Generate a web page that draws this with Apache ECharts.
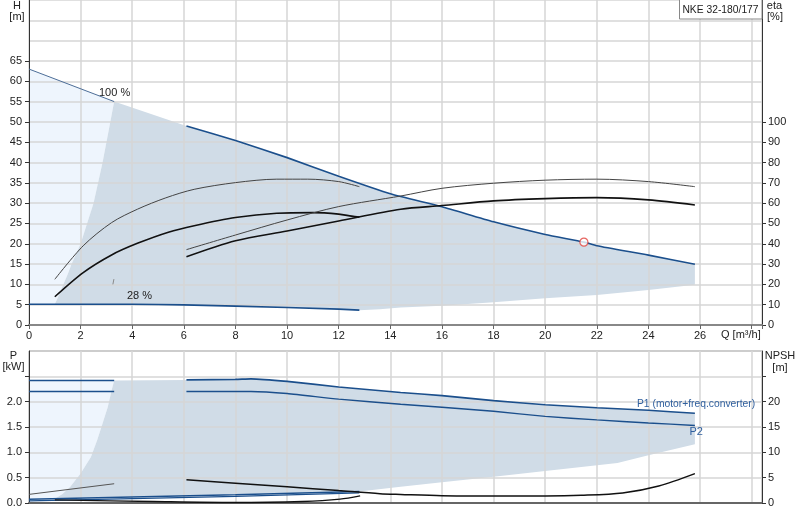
<!DOCTYPE html>
<html><head><meta charset="utf-8">
<script src="https://cdn.jsdelivr.net/npm/echarts@6/dist/echarts.min.js"></script>
<style>html,body{margin:0;padding:0;background:#fff}#c{width:800px;height:520px}</style>
</head><body><div id="c"></div>
<script>
// ---------- tick labels ----------
const qLabels = [0,2,4,6,8,10,12,14,16,18,20,22,24,26];
const hLabels = [0,5,10,15,20,25,30,35,40,45,50,55,60,65];
const etaLabels = [0,10,20,30,40,50,60,70,80,90,100];
const pLabels = [0,0.5,1,1.5,2];
const pTickVals = [0,0.5,1,1.5,2,2.5];
const npshLabels = [0,5,10,15,20];
const npshTickVals = [0,5,10,15,20,25];

// ---------- Q-H chart ----------
const q100 = [0,3.3,6.1,8,10,12,14,16,18,20,21.5,22,24,25.8];
const h100 = [63,55,49,45.4,41.2,36.6,32.3,29.1,25.4,22.3,20.4,19.5,17.2,14.95];
const q28 = [0,2,4,5,6,8,10,12,12.8];
const h28 = [5.1,5.1,5.1,5.05,4.95,4.65,4.3,3.9,3.65];
const qMinEdgeH = [1,1.17,1.33,1.5,1.65,2,2.25,2.5,2.85,3.15,3.3];
const hMinEdge = [5.1,7.5,10,12.5,15,20,25,30,40,50,55];
const qMaxEdgeH = [12.8,13.6,14.4,16,18,20,22,24,25.8];
const hMaxEdge = [3.65,3.9,4.3,4.75,5.6,6.6,7.4,8.6,9.9];
const dutyQ = [21.5];
const dutyH = [20.4];
const markQ = [3.25,3.29];
const markH = [10.0,11.3];

// efficiency curves (eta %)
const qEtaMinA = [1,2.1,3.2,4.2,5.3,6.4,8,9.6,10.8,12,12.8];
const etaMinA = [22.5,39,50.4,57,62.6,66.8,70.1,71.8,71.8,70.6,68.1];
const qEtaMinB = [1,2.1,3.2,4.2,5.4,6.4,8,9.6,11,12,12.5,12.8];
const etaMinB = [13.9,25.8,34.5,40.2,45.7,48.9,52.9,55.0,55.3,54.6,53.6,53.1];
const qEtaMaxC = [6.1,8,10,12,14.4,16,18,20,22,24,25.8];
const etaMaxC = [37.1,44.3,51.7,58.3,63.5,67.3,69.8,71.3,71.8,70.6,68.1];
const qEtaMaxD = [6.1,8,10,12,14.4,16,18,20,22,24,25.8];
const etaMaxD = [33.6,41.5,46.3,51.2,57.0,58.8,61.1,62.2,62.7,61.6,59.1];

// ---------- power / NPSH chart ----------
const qPLeft = [0,3.3];
const p1Left = [2.42,2.42];
const p2Left = [2.20,2.20];
const qP1 = [6.1,8,8.6,10,12,14.4,16,18,20,22,24,25.8];
const p1Max = [2.43,2.44,2.45,2.40,2.29,2.18,2.12,2.02,1.94,1.88,1.83,1.77];
const qP2 = [6.1,8.6,10,12,14.4,16,18,20,22,24,25.8];
const p2Max = [2.20,2.20,2.16,2.05,1.95,1.89,1.81,1.71,1.64,1.58,1.53];
const qP28 = [0,4,8,12.8];
const p1At28 = [0.075,0.12,0.165,0.227];
const p2At28 = [0.043,0.085,0.13,0.20];
const qPMinEdge = [1,1.3,1.6,2,2.4,2.64,2.85,3.05,3.2,3.3];
const pMinEdge = [0.086,0.18,0.32,0.58,0.91,1.24,1.57,1.89,2.22,2.42];
const qPMaxEdge = [12.8,14.4,16,18,20,22.8,24,25.8];
const pMaxEdge = [0.227,0.32,0.41,0.52,0.63,0.79,0.94,1.16];
const qNpshLeft = [0,3.3];
const npshLeft = [1.7,3.8];
const qNpshMax = [6.1,8,10,12,13.6,14.4,16,18,20,21.4,23,24.4,25.8];
const npshMax = [4.57,3.9,3.2,2.45,1.85,1.7,1.45,1.4,1.4,1.52,1.98,3.36,5.8];
const qNpshMin = [1,4.8,7.9,10.6,12.05,12.83];
const npshMin = [0.63,0.3,0.1,0.3,0.75,1.4];

// ---------- helpers ----------
const zip = (a,b) => a.map((v,i)=>[v,b[i]]);
const rev = a => a.slice().reverse();
const FONT = '"Liberation Sans", Arial, sans-serif';
const BLUE = '#1b4f8c';
const GRAY_FILL = '#d0dce7';
const LIGHT_FILL = '#eef5fd';

// polygons
const topLight = [[0,h28[0]],[0,h100[0]],[q100[1],h100[1]]]
  .concat(rev(zip(qMinEdgeH,hMinEdge)));
const topGray = zip(qMinEdgeH,hMinEdge)
  .concat(zip(q100,h100).filter(p=>p[0]>3.3))
  .concat(rev(zip(qMaxEdgeH,hMaxEdge)))
  .concat(rev(zip(q28,h28).filter(p=>p[0]>1 && p[0]<12.8)));
const botLight = [[0,p1At28[0]],[0,p1Left[0]],[qPMinEdge[qPMinEdge.length-1],pMinEdge[pMinEdge.length-1]]]
  .concat(rev(zip(qPMinEdge,pMinEdge)));
const botGray = zip(qPMinEdge,pMinEdge)
  .concat(zip(qP1,p1Max))
  .concat(rev(zip(qPMaxEdge,pMaxEdge)))
  .concat(rev(zip(qP28,p1At28).filter(p=>p[0]>1 && p[0]<12.8)));

function poly(points, color, xi, yi){
  return {
    type:'custom', xAxisIndex:xi, yAxisIndex:yi, z:-1, silent:true, clip:true,
    data:[[0,0]],
    renderItem:(params, api)=>({
      type:'polygon',
      shape:{points: points.map(p=>api.coord(p)), smooth:0},
      style:{fill:color}
    })
  };
}
function line(qs, vs, xi, yi, color, width, smooth){
  return {
    type:'line', xAxisIndex:xi, yAxisIndex:yi, data:zip(qs,vs),
    showSymbol:false, symbol:'none', silent:true, smooth:smooth||0,
    lineStyle:{color:color, width:width}
  };
}

const labelStyle = {fontSize:11, color:'#222', fontFamily:FONT};
function yAx(opts){
  return Object.assign({
    type:'value', splitLine:{show:false},
    axisLine:{show:true, onZero:false, lineStyle:{color:'#333', width:1}},
    axisTick:{show:true, length:4, lineStyle:{color:'#333'}},
  }, opts);
}
const gridLineStyle = {color:'#d6d6d6', width:1.5};

const option = {
  animation:false,
  backgroundColor:'#fff',
  grid:[
    {left:29, right:38, top:0, height:325, containLabel:false},
    {left:29, right:38, top:351, height:152, containLabel:false, show:true, borderColor:'#666', borderWidth:1, backgroundColor:'transparent'}
  ],
  xAxis:[
    {type:'value', gridIndex:0, min:0, max:28.4, interval:2,
     axisLine:{onZero:false, lineStyle:{color:'#888', width:2}},
     axisTick:{show:true, length:4, lineStyle:{color:'#666'}},
     axisLabel:Object.assign({margin:5, formatter:v=> (v<=26 && Math.abs(v%2)<1e-9)? String(v):''}, labelStyle),
     splitLine:{show:true, lineStyle:gridLineStyle}},
    {type:'value', gridIndex:1, min:0, max:28.4, interval:2,
     axisLine:{onZero:false, lineStyle:{color:'#666', width:2}},
     axisTick:{show:false}, axisLabel:{show:false},
     splitLine:{show:true, lineStyle:gridLineStyle}}
  ],
  yAxis:[
    yAx({gridIndex:0, position:'left', min:0, max:80, interval:5,
      axisTick:{show:true, length:4, lineStyle:{color:'#333'}, customValues:hLabels},
      axisLabel:Object.assign({margin:7, customValues:hLabels, formatter:v=> v<=65? String(v):''}, labelStyle)}),
    yAx({gridIndex:0, position:'right', min:0, max:160, interval:10,
      axisTick:{show:true, length:4, lineStyle:{color:'#333'}, customValues:etaLabels},
      axisLabel:Object.assign({margin:6, customValues:etaLabels, formatter:v=> v<=100? String(v):''}, labelStyle)}),
    {type:'value', gridIndex:0, position:'left', min:0, max:80, interval:5,
      axisLine:{show:false}, axisTick:{show:false}, axisLabel:{show:false},
      splitLine:{show:true, lineStyle:gridLineStyle}},
    yAx({gridIndex:1, position:'left', min:0, max:3, interval:0.5,
      axisTick:{show:true, length:4, lineStyle:{color:'#333'}, customValues:pTickVals},
      axisLabel:Object.assign({margin:7, customValues:pLabels, formatter:v=> v<=2? v.toFixed(1):''}, labelStyle)}),
    yAx({gridIndex:1, position:'right', min:0, max:30, interval:5,
      axisTick:{show:true, length:4, lineStyle:{color:'#333'}, customValues:npshTickVals},
      axisLabel:Object.assign({margin:6, customValues:npshLabels, formatter:v=> v<=20? String(v):''}, labelStyle)}),
    {type:'value', gridIndex:1, position:'left', min:0, max:3, interval:0.5,
      axisLine:{show:false}, axisTick:{show:false}, axisLabel:{show:false},
      splitLine:{show:true, lineStyle:gridLineStyle}}
  ],
  series:[
    // top chart areas
    poly(topLight, LIGHT_FILL, 0, 0),
    poly(topGray, GRAY_FILL, 0, 0),
    // top chart H curves
    line(q100.slice(0,2), h100.slice(0,2), 0, 0, '#4d6e98', 1),
    line(q100.slice(2), h100.slice(2), 0, 0, BLUE, 1.6, 0.2),
    line(q28, h28, 0, 0, BLUE, 1.6),
    line(markQ, markH, 0, 0, '#8a8a8a', 1),
    // efficiency curves
    line(qEtaMinA, etaMinA, 0, 1, '#444', 1, 0.3),
    line(qEtaMinB, etaMinB, 0, 1, '#111', 1.6, 0.3),
    line(qEtaMaxC, etaMaxC, 0, 1, '#444', 1, 0.3),
    line(qEtaMaxD, etaMaxD, 0, 1, '#111', 1.6, 0.3),
    // duty point
    {type:'scatter', xAxisIndex:0, yAxisIndex:0, data:zip(dutyQ,dutyH), symbol:'circle', symbolSize:8, silent:true,
     itemStyle:{color:'#fff', borderColor:'#e0403a', borderWidth:1.2}, z:5},
    // bottom chart areas
    poly(botLight, LIGHT_FILL, 1, 3),
    poly(botGray, GRAY_FILL, 1, 3),
    // power curves
    line(qPLeft, p1Left, 1, 3, BLUE, 1.5),
    line(qPLeft, p2Left, 1, 3, BLUE, 1.5),
    line(qP1, p1Max, 1, 3, BLUE, 1.6, 0.2),
    line(qP2, p2Max, 1, 3, BLUE, 1.4, 0.2),
    line(qP28, p1At28, 1, 3, BLUE, 1.5),
    line(qP28, p2At28, 1, 3, BLUE, 1.3),
    // NPSH curves
    line(qNpshLeft, npshLeft, 1, 4, '#555', 1),
    line(qNpshMax, npshMax, 1, 4, '#111', 1.5, 0.3),
    line(qNpshMin, npshMin, 1, 4, '#111', 1.3, 0.3)
  ],
  graphic:[
    {type:'text', x:17, y:6, style:{text:'H', fill:'#222', font:'11px '+FONT, align:'center', verticalAlign:'middle'}},
    {type:'text', x:17, y:17, style:{text:'[m]', fill:'#222', font:'11px '+FONT, align:'center', verticalAlign:'middle'}},
    {type:'text', x:774.5, y:6, style:{text:'eta', fill:'#222', font:'11px '+FONT, align:'center', verticalAlign:'middle'}},
    {type:'text', x:775, y:17, style:{text:'[%]', fill:'#222', font:'11px '+FONT, align:'center', verticalAlign:'middle'}},
    {type:'text', x:13.5, y:356, style:{text:'P', fill:'#222', font:'11px '+FONT, align:'center', verticalAlign:'middle'}},
    {type:'text', x:13.5, y:367, style:{text:'[kW]', fill:'#222', font:'11px '+FONT, align:'center', verticalAlign:'middle'}},
    {type:'text', x:780, y:356, style:{text:'NPSH', fill:'#222', font:'11px '+FONT, align:'center', verticalAlign:'middle'}},
    {type:'text', x:780, y:368, style:{text:'[m]', fill:'#222', font:'11px '+FONT, align:'center', verticalAlign:'middle'}},
    {type:'text', x:721, y:335, style:{text:'Q [m³/h]', fill:'#222', font:'11px '+FONT, align:'left', verticalAlign:'middle'}},
    {type:'text', x:99, y:92.5, z:10, style:{text:'100 %', fill:'#222', font:'11px '+FONT, align:'left', verticalAlign:'middle'}},
    {type:'text', x:127, y:295.5, z:10, style:{text:'28 %', fill:'#222', font:'11px '+FONT, align:'left', verticalAlign:'middle'}},
    {type:'text', x:637, y:404.5, z:10, style:{text:'P1 (motor+freq.converter)', fill:'#2f5f9e', font:'10.3px '+FONT, align:'left', verticalAlign:'middle'}},
    {type:'text', x:689.5, y:432, z:10, style:{text:'P2', fill:'#2f5f9e', font:'11px '+FONT, align:'left', verticalAlign:'middle'}},
    {type:'rect', x:679.5, y:-0.5, z:10, shape:{width:82.5, height:19.5}, style:{fill:'#fff', stroke:'#888', lineWidth:1}},
    {type:'text', x:720.5, y:10, z:11, style:{text:'NKE 32-180/177', fill:'#222', font:'10.3px '+FONT, align:'center', verticalAlign:'middle'}}
  ]
};
const chart = echarts.init(document.getElementById('c'), null, {renderer:'canvas'});
chart.setOption(option);
</script>
</body></html>
